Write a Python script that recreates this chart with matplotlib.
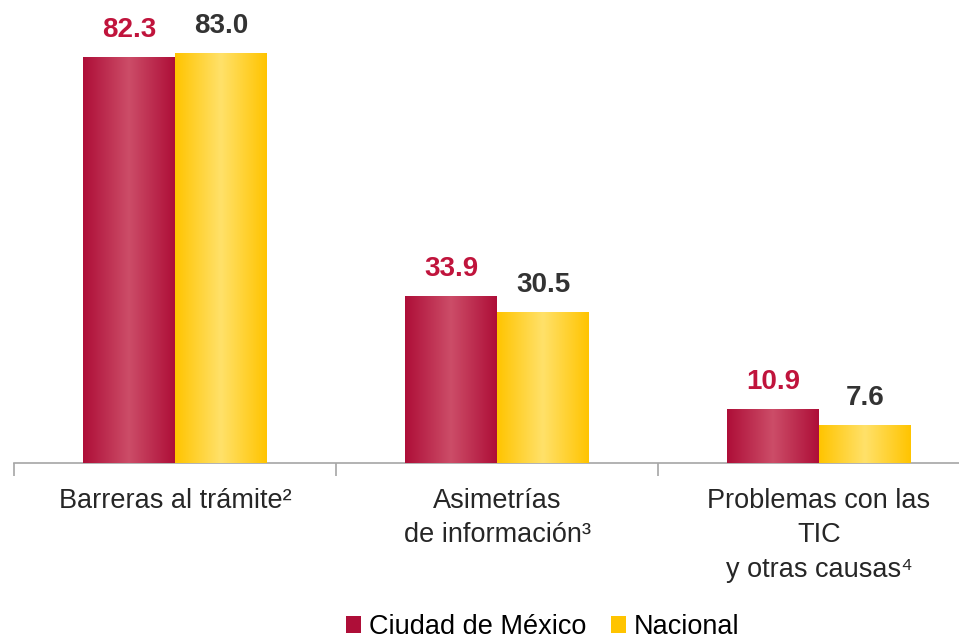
import numpy as np
import matplotlib
matplotlib.use("Agg")
import matplotlib.pyplot as plt
from matplotlib.colors import LinearSegmentedColormap
from matplotlib.patches import Patch

categories = ["Barreras al trámite²", "Asimetrías\nde información³", "Problemas con las\nTIC\ny otras causas⁴"]
series_names = ["Ciudad de México", "Nacional"]
cdmx = [82.3, 33.9, 10.9]
nacional = [83.0, 30.5, 7.6]
label_fmt = "{:.1f}"

W, H = 959, 642
plt.rcParams['font.family'] = ['Liberation Sans', 'DejaVu Sans']
fig = plt.figure(figsize=(W / 100, H / 100), dpi=100)

ax_left = 14 / W
ax = fig.add_axes([ax_left, 1 - 463 / H, 1 - ax_left, 463 / H])
cat_w = 322
xmax = -0.5 + (W - 14) / cat_w
ppu = 4.935  # pixels per data unit

x = np.arange(len(categories))
bw = 92 / cat_w
edge_c = ["#AE0E38", "#FFC400"]
mid_c = ["#CC4D68", "#FFE16A"]
txt_c = ["#C0143C", "#333333"]

for si, vals in enumerate([cdmx, nacional]):
    offs = (si - 0.5) * bw
    bars = ax.bar(x + offs, vals, width=bw, color=edge_c[si], linewidth=0, zorder=2)
    cmap = LinearSegmentedColormap.from_list("g%d" % si, [edge_c[si], mid_c[si], edge_c[si]])
    grad = np.linspace(0, 1, 256).reshape(1, -1)
    for b, v in zip(bars, vals):
        x0 = b.get_x()
        im = ax.imshow(grad, cmap=cmap, aspect='auto', extent=(x0, x0 + bw, 0, v),
                       interpolation='bilinear', zorder=3)
        im.set_clip_path(b)
        ax.text(x0 + bw / 2, v + 20 / ppu, label_fmt.format(v), ha='center', va='baseline',
                fontsize=20, fontweight='bold', color=txt_c[si], zorder=4)

for s in ['top', 'right', 'left']:
    ax.spines[s].set_visible(False)
ax.spines['bottom'].set_color('#A6A6A6')
ax.spines['bottom'].set_linewidth(1.2)
ax.set_yticks([])
ax.set_xticks([-0.5, 0.5, 1.5, 2.5])
ax.set_xticklabels([])
ax.tick_params(axis='x', length=9, width=1.2, color='#A6A6A6', direction='out')
ax.set_xlim(-0.5, xmax)
ax.set_ylim(0, 463 / ppu)

for xi, c in zip(x, categories):
    ax.text(xi, -25 / ppu, c, ha='center', va='top', fontsize=19.5, color='#262626',
            linespacing=1.42)

handles = [Patch(facecolor=edge_c[i], edgecolor='none') for i in range(2)]
fig.legend(handles, series_names, loc='center', bbox_to_anchor=(543 / W, 1 - 627 / H),
           ncol=2, frameon=False, fontsize=19.5, handlelength=0.55, handleheight=0.55,
           handletextpad=0.3, columnspacing=0.9, borderpad=0)

fig.savefig("out.png", dpi=100)
